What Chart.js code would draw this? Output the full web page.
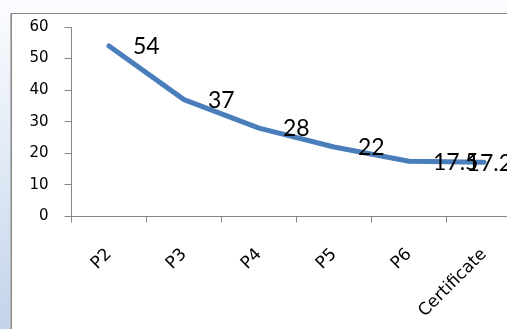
<!DOCTYPE html>
<html>
<head>
<meta charset="utf-8">
<script src="https://cdn.jsdelivr.net/npm/chart.js@4"></script>
<style>
  html, body {
    margin: 0;
    padding: 0;
    width: 507px;
    height: 329px;
    overflow: hidden;
    background: linear-gradient(to bottom, #fbfcfe 0%, #e3ebf6 45%, #c2d3ea 100%);
  }
  #frame {
    position: absolute;
    left: 11px;
    top: 13px;
    width: 620px;
    height: 400px;
    border: 1px solid #8a8a8a;
    box-shadow: -1px 0 0 #b4b4b4;
    background: #ffffff;
  }
  #chart {
    position: absolute;
    left: 0;
    top: 0;
  }
</style>
</head>
<body>
<div id="frame">
  <canvas id="chart" width="520" height="330"></canvas>
</div>
<script>
// Chart data
const categories = ['P2', 'P3', 'P4', 'P5', 'P6', 'Certificate'];
const values = [54, 37, 28, 22, 17.5, 17.2];
const yTicks = [0, 10, 20, 30, 40, 50, 60];

const LABEL_FONT = 'Lato, "Open Sans", sans-serif';
const AXIS_FONT = '"DejaVu Sans", sans-serif';
const AXIS_GREY = '#868686';

// Value labels drawn to the right of each point (Excel style)
const valueLabels = {
    id: 'valueLabels',
    afterDatasetsDraw(chart) {
        const ctx = chart.ctx;
        const meta = chart.getDatasetMeta(0);
        const maxRight = chart.width - 20;
        ctx.save();
        ctx.font = '23px ' + LABEL_FONT;
        ctx.fillStyle = '#000000';
        ctx.textBaseline = 'middle';
        ctx.textAlign = 'left';
        meta.data.forEach((pt, i) => {
            const text = String(values[i]);
            const w = ctx.measureText(text).width;
            let x = pt.x + 24;
            // keep label inside the chart box
            if (x + w > maxRight) x = maxRight - w;
            ctx.fillText(text, x, pt.y + 1);
        });
        ctx.restore();
    }
};

const ctx = document.getElementById('chart').getContext('2d');

new Chart(ctx, {
    type: 'line',
    data: {
        labels: categories,
        datasets: [{
            data: values,
            borderColor: '#4a7ebb',
            borderWidth: 5,
            borderJoinStyle: 'round',
            borderCapStyle: 'round',
            pointRadius: 0,
            tension: 0,
            fill: false
        }]
    },
    options: {
        responsive: false,
        animation: false,
        layout: {
            padding: { left: 0, top: 13, right: 10.5, bottom: 0 }
        },
        plugins: {
            legend: { display: false },
            tooltip: { enabled: false }
        },
        scales: {
            x: {
                offset: true,
                grid: {
                    offset: true,
                    drawOnChartArea: false,
                    drawTicks: true,
                    tickLength: 6,
                    color: AXIS_GREY
                },
                border: { color: AXIS_GREY, width: 1 },
                ticks: {
                    autoSkip: false,
                    minRotation: 45,
                    maxRotation: 45,
                    padding: 22,
                    color: '#000000',
                    font: { family: AXIS_FONT, size: 17 }
                },
                afterFit(scale) {
                    scale.height = 127.5;
                    scale.paddingLeft = 0;
                    scale.paddingRight = 0;
                }
            },
            y: {
                min: 0,
                max: 60,
                afterBuildTicks(scale) {
                    scale.ticks = yTicks.map(v => ({ value: v }));
                },
                grid: {
                    drawOnChartArea: false,
                    drawTicks: true,
                    tickLength: 7,
                    color: AXIS_GREY
                },
                border: { color: AXIS_GREY, width: 1 },
                ticks: {
                    padding: 16,
                    color: '#000000',
                    font: { family: AXIS_FONT, size: 15 }
                },
                afterFit(scale) {
                    scale.width = 59.5;
                    scale.paddingTop = 0;
                    scale.paddingBottom = 0;
                }
            }
        }
    },
    plugins: [valueLabels]
});
</script>
</body>
</html>
